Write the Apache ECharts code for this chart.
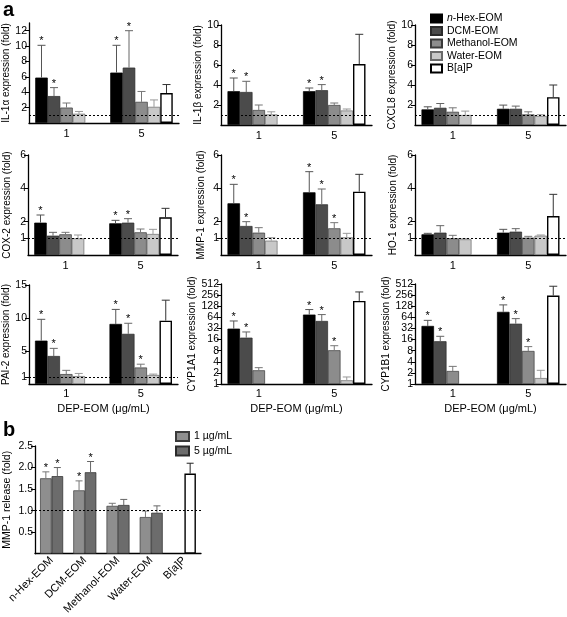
<!DOCTYPE html>
<html><head><meta charset="utf-8">
<script src="https://cdn.jsdelivr.net/npm/echarts@6/dist/echarts.min.js"></script>
<style>html,body{margin:0;padding:0;background:#fff}#c{width:567px;height:617px}</style>
</head><body><div id="c"></div>
<script>
// ---------------- DATA ----------------
const GROUPS = ['1', '5'];
const SERIES_NAMES = ['n-Hex-EOM', 'DCM-EOM', 'Methanol-EOM', 'Water-EOM', 'B[a]P'];

// rows = extract (n-Hex, DCM, Methanol, Water, B[a]P), columns = dose 1, 5 µg/mL
const IL1A_MEAN = [[5.9, 6.55], [3.5, 7.2], [2.0, 2.75], [1.2, 2.1], [null, 3.9]];
const IL1A_ERR  = [[10.1, 10.1], [4.6, 12.0], [2.6, 4.1], [1.5, 3.0], [null, 5.0]];
const IL1A_SIG  = [[1, 1], [1, 1], [0, 0], [0, 0], [0, 0]];
const IL1A_TICKS = [1, 2, 4, 6, 8, 10, 12];

const IL1B_MEAN = [[3.38, 3.38], [3.3, 3.48], [1.5, 2.0], [1.06, 1.45], [null, 6.1]];
const IL1B_ERR  = [[4.7, 3.7], [4.37, 4.04], [2.0, 2.2], [1.32, 1.6], [null, 9.07]];
const IL1B_SIG  = [[1, 1], [1, 1], [0, 0], [0, 0], [0, 0]];
const IL1B_TICKS = [1, 2, 4, 6, 8, 10];

const CXCL8_MEAN = [[1.56, 1.62], [1.72, 1.62], [1.32, 1.06], [1.0, 0.9], [null, 2.78]];
const CXCL8_ERR  = [[1.82, 1.99], [2.15, 1.89], [1.72, 1.32], [1.39, 1.03], [null, 4.0]];
const CXCL8_SIG  = [[0, 0], [0, 0], [0, 0], [0, 0], [0, 0]];
const CXCL8_TICKS = [1, 2, 4, 6, 8, 10];

const COX2_MEAN = [[1.94, 1.9], [1.16, 1.94], [1.24, 1.36], [1.0, 1.26], [null, 2.26]];
const COX2_ERR  = [[2.4, 2.08], [1.36, 2.18], [1.36, 1.56], [1.2, 1.54], [null, 2.8]];
const COX2_SIG  = [[1, 1], [0, 1], [0, 0], [0, 0], [0, 0]];
const COX2_TICKS = [1, 2, 4, 6];

const MMP1_MEAN = [[3.1, 3.76], [1.74, 3.04], [1.34, 1.6], [0.86, 1.06], [null, 3.8]];
const MMP1_ERR  = [[4.24, 5.0], [2.0, 3.96], [1.64, 1.94], [1.04, 1.3], [null, 4.84]];
const MMP1_SIG  = [[1, 1], [1, 1], [0, 1], [0, 0], [0, 0]];
const MMP1_TICKS = [1, 2, 4, 6];

const HO1_MEAN = [[1.24, 1.34], [1.34, 1.4], [1.0, 1.04], [0.94, 1.16], [null, 2.34]];
const HO1_ERR  = [[1.3, 1.54], [1.76, 1.58], [1.18, 1.12], [0.98, 1.2], [null, 3.64]];
const HO1_SIG  = [[0, 0], [0, 0], [0, 0], [0, 0], [0, 0]];
const HO1_TICKS = [1, 2, 4, 6];

const PAI2_MEAN = [[6.57, 9.1], [4.24, 7.6], [1.5, 2.5], [1.2, 1.36], [null, 9.6]];
const PAI2_ERR  = [[9.8, 11.3], [5.4, 9.2], [2.07, 3.0], [1.6, 1.5], [null, 12.7]];
const PAI2_SIG  = [[1, 1], [1, 1], [0, 1], [0, 0], [0, 0]];
const PAI2_TICKS = [1, 5, 10, 15];

const CYP1A1_MEAN = [[31.6, 76], [18, 51], [2.35, 8.2], [null, 1.26], [null, 178]];
const CYP1A1_ERR  = [[51, 104], [25.7, 76], [2.77, 10.9], [null, 1.55], [null, 312]];
const CYP1A1_SIG  = [[1, 1], [1, 1], [0, 1], [0, 0], [0, 0]];

const CYP1B1_MEAN = [[37.4, 90], [14.4, 43], [2.25, 7.85], [null, 1.45], [null, 249]];
const CYP1B1_ERR  = [[53, 139], [19.6, 59], [3.0, 10.3], [null, 2.35], [null, 445]];
const CYP1B1_SIG  = [[1, 1], [1, 1], [0, 1], [0, 0], [0, 0]];
const CYP_TICKS = [1, 2, 4, 8, 16, 32, 64, 128, 256, 512];

// panel b
const B_CATEGORIES = ['n-Hex-EOM', 'DCM-EOM', 'Methanol-EOM', 'Water-EOM', 'B[a]P'];
const B_DOSES = ['1 µg/mL', '5 µg/mL'];
const B_MEAN_1 = [1.75, 1.47, 1.11, 0.85, null];
const B_ERR_1  = [1.9, 1.69, 1.17, 0.99, null];
const B_SIG_1  = [1, 1, 0, 0, 0];
const B_MEAN_5 = [1.80, 1.89, 1.13, 0.95, 1.86];
const B_ERR_5  = [2.0, 2.14, 1.26, 1.11, 2.1];
const B_SIG_5  = [1, 1, 0, 0, 0];
const B_TICKS = [0.5, 1.0, 1.5, 2.0, 2.5];

// ---------------- STYLE / LAYOUT ----------------
const FONT = 'Arial, "Liberation Sans", Helvetica, sans-serif';
const FILL  = ['#000000', '#4b4b4b', '#8c8c8c', '#c8c8c8', '#ffffff'];
const EDGE  = ['#000000', '#2a2a2a', '#3a3a3a', '#6a6a6a', '#000000'];
const WHISK = ['#555555', '#666666', '#777777', '#999999', '#333333'];
const B_FILL = ['#8e8e8e', '#6c6c6c'];
const B_EDGE = ['#3a3a3a', '#2a2a2a'];
const B_WHISK = ['#777777', '#666666'];

const PANELS = [
  {name: 'IL-1α expression (fold)', mean: IL1A_MEAN, err: IL1A_ERR, sig: IL1A_SIG, ticks: IL1A_TICKS, max: 13, box: [29, 23, 150, 100], gap: 16, row: 0},
  {name: 'IL-1β expression (fold)', mean: IL1B_MEAN, err: IL1B_ERR, sig: IL1B_SIG, ticks: IL1B_TICKS, max: 10, box: [221, 25, 151, 100], gap: 15, row: 0},
  {name: 'CXCL8 expression (fold)', mean: CXCL8_MEAN, err: CXCL8_ERR, sig: CXCL8_SIG, ticks: CXCL8_TICKS, max: 10, box: [415, 25, 151, 100], gap: 17, row: 0},
  {name: 'COX-2 expression (fold)', mean: COX2_MEAN, err: COX2_ERR, sig: COX2_SIG, ticks: COX2_TICKS, max: 6, box: [28, 155, 150, 100], gap: 16, row: 1},
  {name: 'MMP-1 expression (fold)', mean: MMP1_MEAN, err: MMP1_ERR, sig: MMP1_SIG, ticks: MMP1_TICKS, max: 6, box: [221, 155, 151, 100], gap: 15, row: 1},
  {name: 'HO-1 expression (fold)', mean: HO1_MEAN, err: HO1_ERR, sig: HO1_SIG, ticks: HO1_TICKS, max: 6, box: [415, 155, 151, 100], gap: 17, row: 1},
  {name: 'PAI-2 expression (fold)', mean: PAI2_MEAN, err: PAI2_ERR, sig: PAI2_SIG, ticks: PAI2_TICKS, max: 15, box: [28, 285, 150, 99], gap: 18, row: 2},
  {name: 'CYP1A1 expression (fold)', mean: CYP1A1_MEAN, err: CYP1A1_ERR, sig: CYP1A1_SIG, ticks: CYP_TICKS, log: true, box: [221, 284, 151, 100], gap: 23, row: 2},
  {name: 'CYP1B1 expression (fold)', mean: CYP1B1_MEAN, err: CYP1B1_ERR, sig: CYP1B1_SIG, ticks: CYP_TICKS, log: true, box: [415, 284, 151, 100], gap: 23, row: 2}
];
const B_BOX = [35, 446, 166, 109];

function errorSeries(idx, n, bw, capHalf, items, colors) {
  return {
    type: 'custom', xAxisIndex: idx, yAxisIndex: idx, silent: true, z: 4, animation: false, clip: false,
    data: items,
    encode: {x: 0, y: 2},
    renderItem: function (params, api) {
      const g = api.value(0), m = api.value(1), e = api.value(2), k = api.value(3), s = api.value(4);
      const base = api.coord([g, m]);
      const tip = api.coord([g, e]);
      const x = base[0] + (k - (n - 1) / 2) * bw;
      const col = colors[api.value(5)];
      const ch = [
        {type: 'line', shape: {x1: x, y1: base[1], x2: x, y2: tip[1]}, style: {stroke: col, lineWidth: 1}},
        {type: 'line', shape: {x1: x - capHalf, y1: tip[1], x2: x + capHalf, y2: tip[1]}, style: {stroke: col, lineWidth: 1}}
      ];
      if (s) ch.push({type: 'text', style: {text: '*', x: x, y: tip[1] - 4, align: 'center', verticalAlign: 'middle', fontSize: 11, fontFamily: FONT, fill: '#000'}});
      return {type: 'group', children: ch};
    }
  };
}

const grid = [], xAxis = [], yAxis = [], series = [];
const axisLineStyle = {color: '#000', width: 1.3};

PANELS.forEach((p, i) => {
  grid.push({left: p.box[0], top: p.box[1], width: p.box[2], height: p.box[3]});
  xAxis.push({
    type: 'category', gridIndex: i, data: GROUPS,
    axisLine: {lineStyle: axisLineStyle},
    axisTick: {alignWithLabel: true, length: 4, lineStyle: {color: '#000', width: 1}},
    axisLabel: {color: '#000', fontSize: 11, fontFamily: FONT, margin: p.row === 2 ? 4 : 5},
    name: p.row === 2 ? 'DEP-EOM (μg/mL)' : '', nameLocation: 'middle', nameGap: 19,
    nameTextStyle: {color: '#000', fontSize: 11, fontFamily: FONT}
  });
  const y = {
    gridIndex: i,
    axisLine: {show: true, lineStyle: axisLineStyle},
    axisTick: {show: true, length: 4, lineStyle: {color: '#000', width: 1}, customValues: p.ticks},
    axisLabel: {color: '#000', fontSize: 10.5, fontFamily: FONT, margin: 2, customValues: p.ticks},
    splitLine: {show: false},
    name: p.name, nameLocation: 'middle', nameGap: p.gap, nameRotate: 90,
    nameTextStyle: {color: '#000', fontSize: 10, fontFamily: FONT}
  };
  if (p.log) { y.type = 'log'; y.logBase = 2; y.min = 1; y.max = 512; }
  else { y.type = 'value'; y.min = 0; y.max = p.max; }
  yAxis.push(y);

  const items = [];
  SERIES_NAMES.forEach((nm, k) => {
    const s = {
      type: 'bar', name: nm, xAxisIndex: i, yAxisIndex: i, data: p.mean[k],
      barWidth: 12.5, barGap: '0%', silent: true, animation: false,
      itemStyle: {color: FILL[k], borderColor: EDGE[k], borderWidth: k === 4 ? 1.4 : 0.7}
    };
    if (k === 0 && !p.log) {
      s.markLine = {silent: true, symbol: ['none', 'none'], label: {show: false},
        lineStyle: {color: '#000', type: [2, 2], width: 1}, data: [{yAxis: 1}], animation: false};
    }
    series.push(s);
    GROUPS.forEach((g, gi) => {
      if (p.mean[k][gi] != null) items.push([gi, p.mean[k][gi], p.err[k][gi], k, p.sig[k][gi], k]);
    });
  });
  series.push(errorSeries(i, 5, 12.5, 4, items, WHISK));
});

// panel b
const bi = PANELS.length;
grid.push({left: B_BOX[0], top: B_BOX[1], width: B_BOX[2], height: B_BOX[3]});
xAxis.push({
  type: 'category', gridIndex: bi, data: B_CATEGORIES,
  axisLine: {lineStyle: axisLineStyle},
  axisTick: {alignWithLabel: true, length: 4, lineStyle: {color: '#000', width: 1}},
  axisLabel: {color: '#000', fontSize: 11, fontFamily: FONT, rotate: 45, margin: 5, interval: 0}
});
yAxis.push({
  type: 'value', gridIndex: bi, min: 0, max: 2.5,
  axisLine: {show: true, lineStyle: axisLineStyle},
  axisTick: {show: true, length: 4, lineStyle: {color: '#000', width: 1}, customValues: B_TICKS},
  axisLabel: {color: '#000', fontSize: 10.5, fontFamily: FONT, margin: 2, customValues: B_TICKS, formatter: v => v.toFixed(1)},
  splitLine: {show: false},
  name: 'MMP-1 release (fold)', nameLocation: 'middle', nameGap: 22, nameRotate: 90,
  nameTextStyle: {color: '#000', fontSize: 10.5, fontFamily: FONT}
});
const B_MEANS = [B_MEAN_1, B_MEAN_5], B_ERRS = [B_ERR_1, B_ERR_5], B_SIGS = [B_SIG_1, B_SIG_5];
const bItems = [];
const B_WHISK_ALL = B_WHISK.concat(['#222222']);
B_DOSES.forEach((nm, k) => {
  const data = B_MEANS[k].map((v, ci) => {
    if (B_CATEGORIES[ci] === 'B[a]P' && v != null) {
      return {value: v, itemStyle: {color: '#ffffff', borderColor: '#000', borderWidth: 1.4}};
    }
    return v;
  });
  const s = {
    type: 'bar', name: nm, xAxisIndex: bi, yAxisIndex: bi, data: data,
    barWidth: 11.5, barGap: '0%', silent: true, animation: false,
    itemStyle: {color: B_FILL[k], borderColor: B_EDGE[k], borderWidth: 0.7}
  };
  if (k === 0) {
    s.markLine = {silent: true, symbol: ['none', 'none'], label: {show: false},
      lineStyle: {color: '#000', type: [2, 2], width: 1}, data: [{yAxis: 1}], animation: false};
  }
  series.push(s);
  B_CATEGORIES.forEach((c, ci) => {
    if (B_MEANS[k][ci] != null) bItems.push([ci, B_MEANS[k][ci], B_ERRS[k][ci], k, B_SIGS[k][ci], c === 'B[a]P' ? 2 : k]);
  });
});
series.push(errorSeries(bi, 2, 11.5, 3.5, bItems, B_WHISK_ALL));

const option = {
  animation: false,
  backgroundColor: '#fff',
  textStyle: {fontFamily: FONT},
  grid, xAxis, yAxis, series,
  legend: [
    {
      data: SERIES_NAMES, orient: 'vertical', left: 425, top: 8, itemWidth: 11, itemHeight: 8, itemGap: 1.5,
      selectedMode: false, icon: 'rect',
      formatter: n => n === 'n-Hex-EOM' ? '{it|n}-Hex-EOM' : n,
      textStyle: {color: '#000', fontSize: 10.5, fontFamily: FONT, rich: {it: {fontStyle: 'italic', fontSize: 10.5, fontFamily: FONT, color: '#000'}}}
    },
    {
      data: B_DOSES, orient: 'vertical', left: 170, top: 426, itemWidth: 13, itemHeight: 9, itemGap: 3.5,
      selectedMode: false, icon: 'rect',
      textStyle: {color: '#000', fontSize: 10.5, fontFamily: FONT}
    }
  ],
  graphic: [
    {type: 'text', left: 3, top: 0, style: {text: 'a', fontSize: 20, fontWeight: 'bold', fontFamily: FONT, fill: '#000'}},
    {type: 'text', left: 3, top: 420, style: {text: 'b', fontSize: 20, fontWeight: 'bold', fontFamily: FONT, fill: '#000'}}
  ]
};

const chart = echarts.init(document.getElementById('c'), null, {renderer: 'canvas'});
chart.setOption(option);
</script>
</body></html>
